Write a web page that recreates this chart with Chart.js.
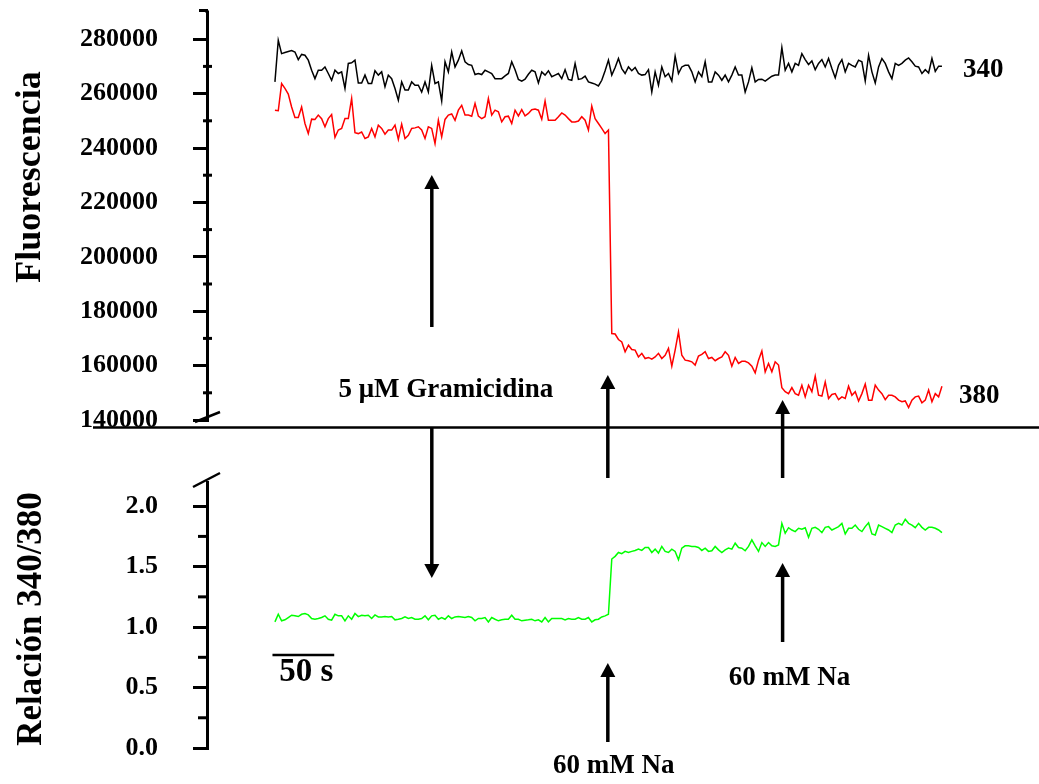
<!DOCTYPE html>
<html lang="es">
<head>
<meta charset="UTF-8" />
<title>Fluorescencia 340/380</title>
<style>
  html, body { margin: 0; padding: 0; background: #fff; }
  .stage { position: relative; width: 1039px; height: 784px; overflow: hidden; }
  .stage canvas { position: absolute; left: 0; top: 0; }
</style>
</head>
<body>
<div class="stage">
  <canvas id="chartTop" width="1039" height="784"></canvas>
  <canvas id="chartBottom" width="1039" height="784"></canvas>
</div>
<script src="https://cdn.jsdelivr.net/npm/chart.js"></script>
<script>
// one sample every 2.7 s
const SAMPLE_S = 2.7;

const fluo340 = [
  264300, 279600, 274700, 275100, 275500, 275800, 275300, 272500, 274400, 274100,
  272300, 268600, 265500, 268600, 268600, 269800, 267400, 264900, 268600, 267400,
  268000, 261900, 271100, 271300, 272300, 263900, 263900, 266800, 263700, 263700,
  268400, 266800, 268000, 262500, 266800, 265500, 261900, 257600, 264300, 261300,
  261300, 264300, 263100, 263100, 260600, 264300, 260600, 270400, 263700, 264300,
  257300, 271700, 268000, 275300, 269800, 272300, 275700, 271700, 270700, 270400,
  267000, 267400, 267000, 268600, 268000, 267400, 265500, 265500, 265500, 266500,
  267400, 271700, 268800, 265200, 264600, 265300, 267100, 268600, 268000, 263900,
  268000, 266800, 268400, 266200, 266800, 267400, 265500, 268800, 265200, 264900,
  271100, 265200, 265500, 266400, 264300, 263900, 263500, 262800, 264900, 268400,
  272300, 266800, 269600, 272900, 269200, 267400, 269800, 268400, 269600, 267400,
  266800, 267000, 268800, 260600, 268000, 263100, 269800, 266200, 267400, 264600,
  273800, 267400, 269800, 270400, 270400, 268000, 264300, 268000, 266200, 271700,
  264300, 264300, 268000, 266800, 264900, 266800, 264300, 266800, 269800, 266800,
  266800, 260600, 264300, 269500, 264300, 265200, 265300, 264600, 265500, 266400,
  266800, 266800, 276900, 268600, 271100, 268000, 271100, 270400, 274700, 272500,
  270700, 272000, 268800, 271100, 272500, 269800, 272900, 269200, 265800, 270400,
  272500, 268000, 271100, 270400, 269800, 272300, 271700, 264600, 274100, 268000,
  263900, 269800, 272900, 271100, 268000, 265500, 271100, 270400, 271100, 272300,
  273100, 271700, 270100, 269800, 267400, 268800, 267600, 272900, 268200, 270100,
  270100
];

const fluo380 = [
  253900, 253700, 263700, 261900, 259800, 255100, 251200, 251200, 255100, 249000,
  245300, 250600, 250500, 252100, 250800, 247800, 250800, 252300, 243900, 246600,
  247200, 250800, 250800, 258200, 245600, 245300, 245900, 243500, 244100, 247200,
  244100, 248400, 247200, 245100, 246600, 246600, 248400, 243200, 248800, 243500,
  244700, 247200, 247400, 247800, 246600, 243500, 247800, 247200, 241600, 250200,
  244100, 250500, 252100, 252500, 250200, 253900, 255700, 252100, 252100, 251700,
  256400, 251700, 250800, 251500, 258200, 252100, 253900, 253300, 249600, 251500,
  251700, 249000, 253900, 251800, 254100, 251800, 252700, 254100, 254300, 253900,
  250600, 257300, 250200, 250200, 250200, 251500, 252900, 252100, 250800, 249600,
  249600, 249900, 251500, 250200, 246600, 255400, 250800, 249000, 247200, 245300,
  246600, 171800, 171600, 169600, 168700, 165100, 167500, 165900, 165700, 163200,
  164500, 162600, 163000, 162400, 163200, 164500, 162600, 163800, 166300, 159800,
  165700, 172400, 163800, 162000, 161800, 161400, 160200, 163500, 164100, 165100,
  162600, 163000, 161800, 162600, 163200, 165100, 163800, 159800, 163000, 160800,
  161600, 161600, 161000, 159800, 157300, 162000, 165400, 157700, 160800, 157700,
  161400, 160200, 151900, 150400, 149700, 151900, 149700, 149100, 152800, 148500,
  152800, 150400, 156100, 149100, 148800, 154000, 147900, 149400, 149700, 147500,
  148500, 147900, 152400, 149100, 150400, 147000, 149700, 153200, 147300, 147300,
  152800, 151000, 149700, 147500, 149100, 149100, 148500, 147300, 146700, 147000,
  144600, 147300, 148500, 148800, 146300, 147300, 151000, 146700, 149700, 148500,
  152400
];

const ratio = [
  1.043, 1.106, 1.052, 1.060, 1.079, 1.098, 1.093, 1.087, 1.106, 1.112,
  1.101, 1.071, 1.065, 1.071, 1.079, 1.093, 1.065, 1.057, 1.106, 1.093,
  1.093, 1.052, 1.093, 1.065, 1.112, 1.087, 1.098, 1.093, 1.098, 1.071,
  1.101, 1.084, 1.084, 1.087, 1.084, 1.087, 1.060, 1.065, 1.071, 1.084,
  1.071, 1.079, 1.065, 1.065, 1.071, 1.093, 1.060, 1.093, 1.098, 1.065,
  1.079, 1.065, 1.093, 1.071, 1.084, 1.087, 1.084, 1.079, 1.087, 1.079,
  1.052, 1.071, 1.071, 1.079, 1.043, 1.079, 1.065, 1.052, 1.060, 1.065,
  1.065, 1.098, 1.065, 1.065, 1.052, 1.057, 1.060, 1.065, 1.052, 1.060,
  1.043, 1.079, 1.043, 1.071, 1.071, 1.071, 1.071, 1.060, 1.071, 1.065,
  1.065, 1.079, 1.065, 1.065, 1.079, 1.043, 1.060, 1.065, 1.084, 1.093,
  1.106, 1.563, 1.585, 1.617, 1.607, 1.626, 1.617, 1.626, 1.634, 1.645,
  1.634, 1.658, 1.658, 1.617, 1.645, 1.612, 1.667, 1.626, 1.617, 1.645,
  1.626, 1.557, 1.653, 1.672, 1.672, 1.667, 1.667, 1.658, 1.634, 1.653,
  1.626, 1.631, 1.667, 1.639, 1.617, 1.639, 1.653, 1.645, 1.694, 1.658,
  1.653, 1.631, 1.667, 1.721, 1.672, 1.626, 1.699, 1.667, 1.699, 1.672,
  1.667, 1.680, 1.858, 1.776, 1.822, 1.803, 1.790, 1.817, 1.809, 1.822,
  1.743, 1.817, 1.825, 1.809, 1.781, 1.825, 1.831, 1.803, 1.817, 1.831,
  1.858, 1.770, 1.817, 1.817, 1.844, 1.809, 1.790, 1.831, 1.863, 1.770,
  1.762, 1.844, 1.831, 1.817, 1.803, 1.781, 1.844, 1.858, 1.844, 1.891,
  1.858, 1.844, 1.822, 1.858, 1.825, 1.803, 1.825, 1.825, 1.817, 1.803,
  1.781
];

const fluoTicks = [140000, 160000, 180000, 200000, 220000, 240000, 260000, 280000];
const ratioTicks = [0, 0.5, 1.0, 1.5, 2.0];

// additions (seconds from the start of the trace)
const eventTimes = [127, 269.5, 411];
const eventLabels = ["5 \u03bcM Gramicidina", "60 mM Na", "60 mM Na"];

const SERIF = '"Liberation Serif", "Times New Roman", serif';
const times = fluo340.map((_, i) => i * SAMPLE_S);
const toPoints = (vals) => vals.map((v, i) => ({ x: times[i], y: v }));

Chart.defaults.font.family = SERIF;
Chart.defaults.color = "#000";

function font(size) {
  return "bold " + size + "px " + SERIF;
}

function line(ctx, x1, y1, x2, y2, w) {
  ctx.beginPath();
  ctx.moveTo(x1, y1);
  ctx.lineTo(x2, y2);
  ctx.lineWidth = w;
  ctx.stroke();
}

function arrow(ctx, x, yFrom, yTip) {
  const dir = Math.sign(yTip - yFrom);
  const yBase = yTip - dir * 14;
  line(ctx, x, yFrom, x, yBase, 3.5);
  ctx.beginPath();
  ctx.moveTo(x, yTip);
  ctx.lineTo(x - 7.5, yBase);
  ctx.lineTo(x + 7.5, yBase);
  ctx.closePath();
  ctx.fill();
}

function midpoints(ticks) {
  return ticks.slice(1).map((v, i) => (v + ticks[i]) / 2);
}

function vTitle(ctx, text, x, y, size) {
  ctx.save();
  ctx.translate(x, y);
  ctx.rotate(-Math.PI / 2);
  ctx.font = font(size);
  ctx.textAlign = "center";
  ctx.textBaseline = "alphabetic";
  ctx.fillText(text, 0, 0);
  ctx.restore();
}

function yAxis(min, max, ticks, fmt) {
  return {
    position: "left",
    min: min,
    max: max,
    border: { display: true, color: "#000", width: 3 },
    grid: {
      drawOnChartArea: false,
      drawTicks: true,
      tickLength: 14,
      lineWidth: 3,
      tickWidth: 3,
      color: "#000",
      tickColor: "#000",
    },
    ticks: {
      color: "#000",
      padding: 35,
      font: { family: SERIF, size: 26, weight: "bold" },
      callback: fmt,
    },
    afterBuildTicks(scale) {
      scale.ticks = ticks.map((value) => ({ value }));
    },
    afterFit(scale) {
      scale.width = 207;
      scale.paddingTop = 0;
      scale.paddingBottom = 0;
    },
  };
}

const xAxis = { type: "linear", min: -55, max: 587, display: false };

const topDecor = {
  id: "topDecor",
  afterDraw(chart) {
    const { ctx, chartArea } = chart;
    const y = chart.scales.y;
    const ax = chartArea.left;
    ctx.save();
    ctx.strokeStyle = "#000";
    ctx.fillStyle = "#000";
    ctx.lineCap = "butt";
    midpoints(fluoTicks).forEach((v) => {
      const py = y.getPixelForValue(v);
      line(ctx, ax - 4, py, ax + 5, py, 3);
    });
    // axis cap and break mark
    line(ctx, ax, chartArea.top - 2, ax, chartArea.top + 1, 3);
    line(ctx, ax - 8, chartArea.top - 1.5, ax + 1, chartArea.top - 1.5, 3);
    line(ctx, ax - 12, chartArea.bottom + 2, ax + 13, chartArea.bottom - 8, 2.5);

    vTitle(ctx, "Fluorescencia", 40, 177, 36);

    ctx.font = font(27);
    ctx.textAlign = "left";
    ctx.fillText("340", 963, 77);
    ctx.fillText("380", 959, 403);
    ctx.restore();
  },
};

const bottomDecor = {
  id: "bottomDecor",
  afterDraw(chart) {
    const { ctx, chartArea } = chart;
    const x = chart.scales.x;
    const y = chart.scales.y;
    const ax = chartArea.left;
    ctx.save();
    ctx.strokeStyle = "#000";
    ctx.fillStyle = "#000";
    midpoints(ratioTicks).forEach((v) => {
      const py = y.getPixelForValue(v);
      line(ctx, ax - 9, py, ax, py, 3);
    });
    line(ctx, ax - 14, chartArea.top + 5, ax + 13, chartArea.top - 9, 2.5);

    // separator between panels
    line(ctx, 93, 427.5, 1039, 427.5, 2.5);

    vTitle(ctx, "Relaci\u00f3n 340/380", 41, 619, 35);

    const gx = x.getPixelForValue(eventTimes[0]);
    const n1 = x.getPixelForValue(eventTimes[1]);
    const n2 = x.getPixelForValue(eventTimes[2]);

    arrow(ctx, gx, 327, 175);
    arrow(ctx, gx, 428, 578);
    arrow(ctx, n1, 478, 375);
    arrow(ctx, n1, 742, 663);
    arrow(ctx, n2, 478, 400);
    arrow(ctx, n2, 642, 563);

    ctx.textAlign = "center";
    ctx.textBaseline = "alphabetic";
    ctx.font = font(27);
    ctx.fillText(eventLabels[0], gx + 14, 397);
    ctx.font = font(27);
    ctx.fillText(eventLabels[1], n1 + 6, 773);
    ctx.fillText(eventLabels[2], n2 + 7, 685);

    // 50 s scale bar
    const s0 = x.getPixelForValue(-2);
    const s1 = x.getPixelForValue(48);
    line(ctx, s0, 655, s1, 655, 2.5);
    ctx.font = font(33);
    ctx.fillText("50 s", (s0 + s1) / 2 + 3, 681);
    ctx.restore();
  },
};

const common = {
  responsive: false,
  animation: false,
  events: [],
  plugins: { legend: { display: false }, tooltip: { enabled: false } },
  elements: { point: { radius: 0 }, line: { tension: 0, borderWidth: 1.5 } },
};

new Chart(document.getElementById("chartTop"), {
  type: "line",
  data: {
    datasets: [
      { label: "340", data: toPoints(fluo340), borderColor: "#000000", fill: false },
      { label: "380", data: toPoints(fluo380), borderColor: "#ff0000", fill: false },
    ],
  },
  options: Object.assign({}, common, {
    layout: { padding: { left: 0, top: 12, right: 39, bottom: 364 } },
    scales: {
      x: xAxis,
      y: yAxis(140000, 290000, fluoTicks, (v) => String(v)),
    },
  }),
  plugins: [topDecor],
});

new Chart(document.getElementById("chartBottom"), {
  type: "line",
  data: {
    datasets: [
      { label: "340/380", data: toPoints(ratio), borderColor: "#00ff00", fill: false },
    ],
  },
  options: Object.assign({}, common, {
    layout: { padding: { left: 0, top: 482, right: 39, bottom: 36 } },
    scales: {
      x: xAxis,
      y: yAxis(0, 2.2, ratioTicks, (v) => v.toFixed(1)),
    },
  }),
  plugins: [bottomDecor],
});
</script>
</body>
</html>
